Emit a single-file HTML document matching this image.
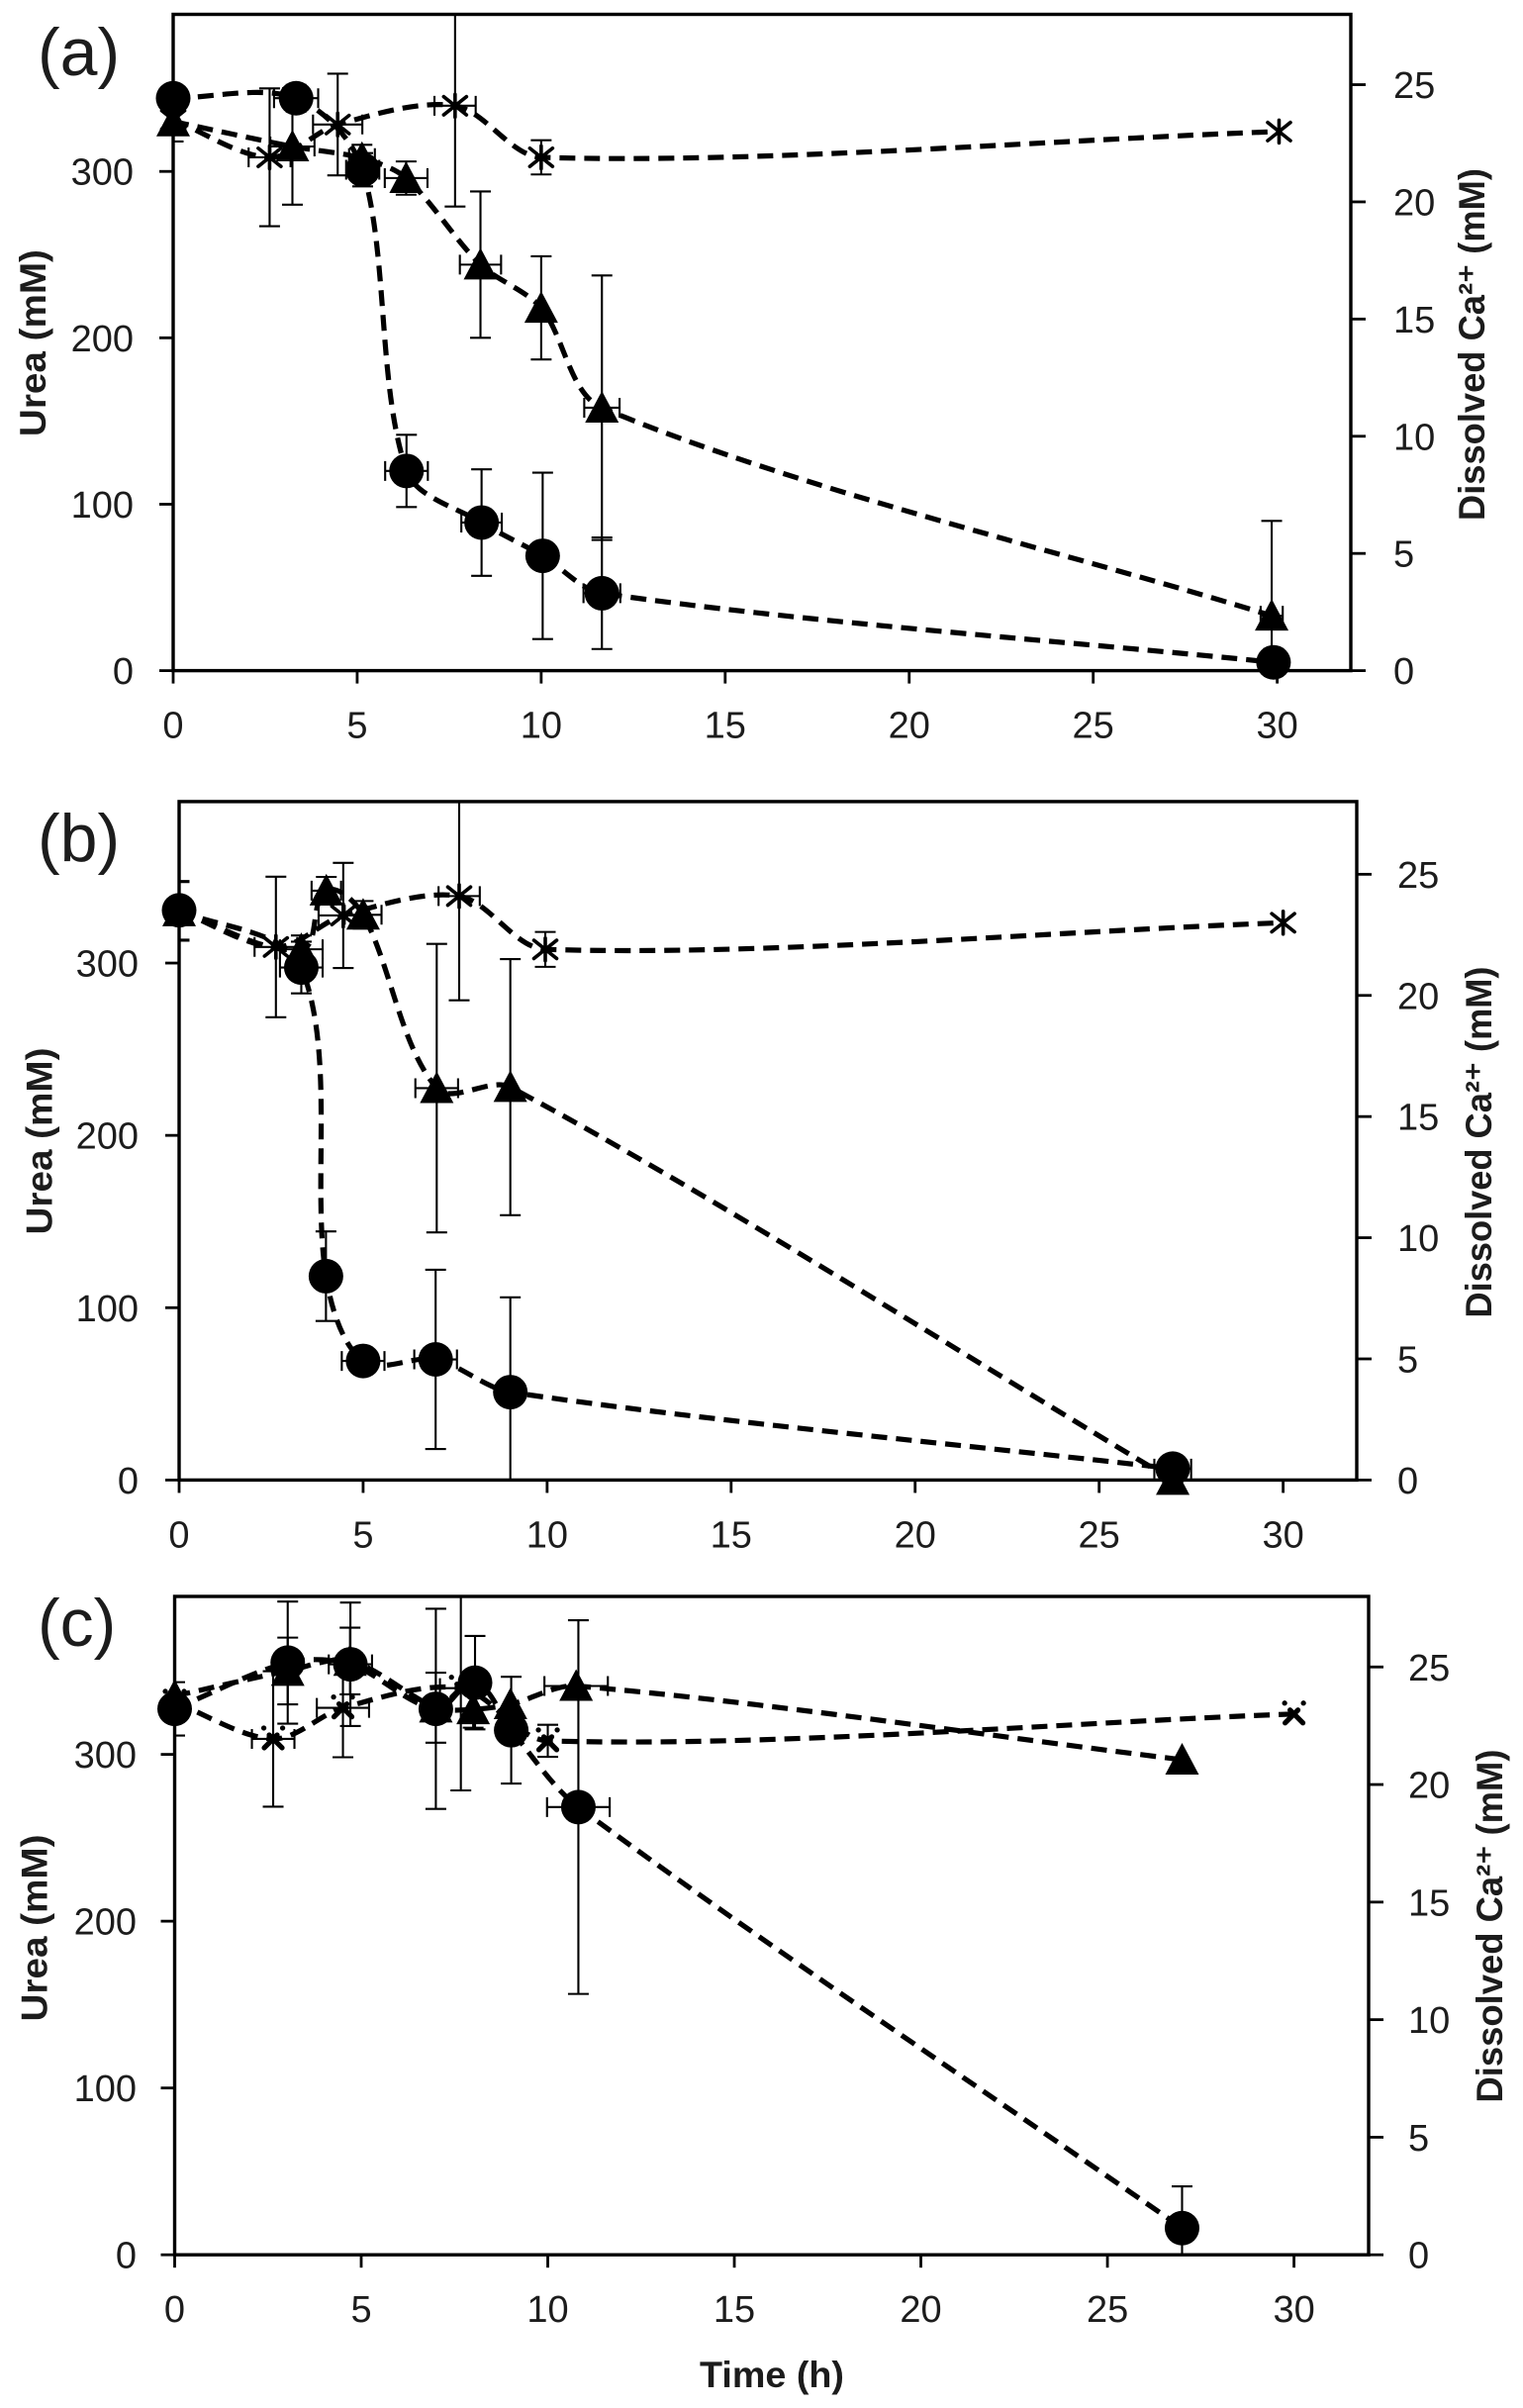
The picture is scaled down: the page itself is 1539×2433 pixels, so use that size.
<!DOCTYPE html>
<html lang="en">
<head>
<meta charset="utf-8">
<title>Urea and dissolved calcium over time</title>
<style>
html,body{margin:0;padding:0;background:#fff;}
svg{display:block;}
text{font-family:"Liberation Sans",sans-serif;fill:#1c1c1c;}
</style>
</head>
<body>
<svg id="figure" xmlns="http://www.w3.org/2000/svg" width="1539" height="2433" viewBox="0 0 1539 2433">
  <rect x="0" y="0" width="1539" height="2433" fill="#fff"/>
  <text x="38" y="76" font-size="68">(a)</text>
  <text x="38" y="870" font-size="68">(b)</text>
  <text x="38" y="1663" font-size="68">(c)</text>

  <text transform="translate(46,346.6) rotate(-90)" text-anchor="middle" font-size="37" font-weight="700" textLength="189" lengthAdjust="spacingAndGlyphs">Urea (mM)</text>
  <text transform="translate(52.5,1153) rotate(-90)" text-anchor="middle" font-size="37" font-weight="700" textLength="189" lengthAdjust="spacingAndGlyphs">Urea (mM)</text>
  <text transform="translate(47.5,1948) rotate(-90)" text-anchor="middle" font-size="37" font-weight="700" textLength="189" lengthAdjust="spacingAndGlyphs">Urea (mM)</text>

  <text transform="translate(1500,348) rotate(-90)" text-anchor="middle" font-size="37" font-weight="700" textLength="356" lengthAdjust="spacingAndGlyphs">Dissolved Ca²⁺ (mM)</text>
  <text transform="translate(1507,1154) rotate(-90)" text-anchor="middle" font-size="37" font-weight="700" textLength="355" lengthAdjust="spacingAndGlyphs">Dissolved Ca²⁺ (mM)</text>
  <text transform="translate(1518,1946) rotate(-90)" text-anchor="middle" font-size="37" font-weight="700" textLength="357" lengthAdjust="spacingAndGlyphs">Dissolved Ca²⁺ (mM)</text>

  <text x="780" y="2412" text-anchor="middle" font-size="37" font-weight="700" textLength="146" lengthAdjust="spacingAndGlyphs">Time (h)</text>
</svg>
<script>
// Shared axis tick labels
const xTickLabels = [0, 5, 10, 15, 20, 25, 30];
const ureaTickLabels = [0, 100, 200, 300];
const calciumTickLabels = [0, 5, 10, 15, 20, 25];

// Panel (a)
const aCircleTime = [0, 3.34, 5.15, 6.34, 8.38, 10.04, 11.65, 29.9];
const aCircleUrea = [344, 344, 301, 120, 89, 69, 46.5, 5];
const aCircleUreaErr = [0, 8, 10, 21.7, 32, 50, 33.5, 8];
const aCircleTimeErr = [0, 0.6, 0.45, 0.58, 0.55, 0, 0.5, 0];
const aTriangleTime = [0, 3.24, 5.13, 6.33, 8.35, 10, 11.65, 29.85];
const aTriangleUrea = [330, 315, 308, 296, 244, 218, 158, 33];
const aTriangleUreaErr = [12, 35, 8, 10, 44, 31, 79.5, 57];
const aTriangleTimeErr = [0, 0.6, 0.35, 0.58, 0.56, 0, 0.48, 0.3];
const aStarTime = [0, 2.62, 4.47, 7.66, 10, 30.05];
const aStarCalcium = [23.5, 21.9, 23.3, 24.1, 21.9, 23];
const aStarCalciumErr = [0, 2.94, 2.17, 4.3, 0.73, 0];
const aStarTimeErr = [0, 0.57, 0.67, 0.56, 0, 0];

// Panel (b)
const bCircleTime = [0, 3.32, 3.99, 5, 6.97, 9, 27];
const bCircleUrea = [330.6, 297.4, 118.3, 69.1, 70, 51, 6.6];
const bCircleUreaErr = [17, 15, 26, 3, 52, 55, 3];
const bCircleTimeErr = [0, 0.58, 0, 0.58, 0.58, 0, 0.5];
const bTriangleTime = [0, 3.32, 4, 5, 7, 9, 27];
const bTriangleUrea = [330, 308, 342, 328, 227.4, 228, 0];
const bTriangleUreaErr = [17, 8, 8, 8, 83.7, 74.3, 0];
const bTriangleTimeErr = [0, 0.58, 0.4, 0.5, 0.58, 0, 0];
const bStarTime = [0, 2.63, 4.46, 7.61, 9.95, 30];
const bStarCalcium = [23.5, 22, 23.3, 24.1, 21.9, 23];
const bStarCalciumErr = [0, 2.9, 2.17, 4.3, 0.72, 0];
const bStarTimeErr = [0, 0.58, 0.67, 0.56, 0, 0];

// Panel (c)
const cCircleTime = [0, 3.03, 4.71, 7, 8.05, 9.02, 10.82, 27];
const cCircleUrea = [327.3, 355, 354, 327.3, 343, 314.5, 268.4, 16];
const cCircleUreaErr = [16, 36.6, 37, 60, 28, 32, 112, 25];
const cCircleTimeErr = [0, 0, 0.58, 0, 0, 0, 0.84, 0];
const cTriangleTime = [0, 3.03, 4.7, 7, 8, 9, 10.76, 27];
const cTriangleUrea = [335, 350, 356, 328, 327, 330, 341, 296.8];
const cTriangleUreaErr = [0, 20, 20, 21, 11, 0, 0, 0];
const cTriangleTimeErr = [0, 0, 0, 0, 0, 0, 0.85, 0];
const cStarTime = [0, 2.64, 4.51, 7.67, 10, 30];
const cStarCalcium = [23.5, 21.94, 23.26, 24.1, 21.86, 23];
const cStarCalciumErr = [0, 2.88, 2.1, 4.35, 0.68, 0];
const cStarTimeErr = [0, 0.57, 0.7, 0.56, 0, 0];

const SVG_NS = 'http://www.w3.org/2000/svg';
const figure = document.getElementById('figure');

function make(tag, parent, attrs) {
  const el = document.createElementNS(SVG_NS, tag);
  for (const k in attrs) el.setAttribute(k, attrs[k]);
  parent.appendChild(el);
  return el;
}

function smoothPath(pts) {
  let d = 'M' + pts[0][0].toFixed(1) + ' ' + pts[0][1].toFixed(1);
  const H = 0.3;
  function unitDir(a, b) {
    const dx = b[0] - a[0], dy = b[1] - a[1];
    const l = Math.hypot(dx, dy) || 1;
    return [dx / l, dy / l];
  }
  for (let i = 0; i < pts.length - 1; i++) {
    const p0 = pts[Math.max(i - 1, 0)], p1 = pts[i], p2 = pts[i + 1], p3 = pts[Math.min(i + 2, pts.length - 1)];
    const seg = Math.hypot(p2[0] - p1[0], p2[1] - p1[1]);
    const t1 = unitDir(p0, p2), t2 = unitDir(p1, p3);
    const c1 = [p1[0] + t1[0] * seg * H, p1[1] + t1[1] * seg * H];
    const c2 = [p2[0] - t2[0] * seg * H, p2[1] - t2[1] * seg * H];
    d += 'C' + c1[0].toFixed(1) + ' ' + c1[1].toFixed(1) + ' ' + c2[0].toFixed(1) + ' ' + c2[1].toFixed(1) + ' ' + p2[0].toFixed(1) + ' ' + p2[1].toFixed(1);
  }
  return d;
}

function drawPanel(p) {
  const xScale = t => p.left + (t / 32) * (p.right - p.left);
  const ureaScale = v => p.bottom - (v / p.ureaMax) * (p.bottom - p.top);
  const calciumScale = v => p.bottom - (v / 28) * (p.bottom - p.top);

  const group = make('g', figure, {});
  
  

  const clipId = 'clip-' + p.id;
  const defs = make('defs', group, {});
  const clip = make('clipPath', defs, { id: clipId });
  make('rect', clip, { x: p.left, y: p.top, width: p.right - p.left, height: p.bottom - p.top });

  // Series
  const seriesList = [
    { key: 'star', time: p.star.time, scale: calciumScale, val: p.star.val, err: p.star.err, xerr: p.star.xerr },
    { key: 'triangle', time: p.triangle.time, scale: ureaScale, val: p.triangle.val, err: p.triangle.err, xerr: p.triangle.xerr },
    { key: 'circle', time: p.circle.time, scale: ureaScale, val: p.circle.val, err: p.circle.err, xerr: p.circle.xerr }
  ];

  seriesList.forEach(s => {
    const sg = make('g', group, {});
    
    

    const errG = make('g', sg, { 'clip-path': 'url(#' + clipId + ')', stroke: '#000', 'stroke-width': 2.1, fill: 'none' });
    
    

    s.time.forEach((t, i) => {
      const cx = xScale(t), cy = s.scale(s.val[i]);
      if (s.err[i] > 0) {
        const y1 = s.scale(s.val[i] + s.err[i]), y2 = s.scale(s.val[i] - s.err[i]);
        const cap = 10.5;
        const bar = make('path', errG, {
          d: 'M' + cx + ' ' + y1 + 'V' + y2 + 'M' + (cx - cap) + ' ' + y1 + 'H' + (cx + cap) + 'M' + (cx - cap) + ' ' + y2 + 'H' + (cx + cap)
        });
        
        
      }
      if (s.xerr[i] > 0) {
        const x1 = xScale(t - s.xerr[i]), x2 = xScale(t + s.xerr[i]);
        const cap = 10;
        const bar = make('path', errG, {
          d: 'M' + x1 + ' ' + cy + 'H' + x2 + 'M' + x1 + ' ' + (cy - cap) + 'V' + (cy + cap) + 'M' + x2 + ' ' + (cy - cap) + 'V' + (cy + cap)
        });
        
        
      }
    });

    const pts = s.time.map((t, i) => [xScale(t), s.scale(s.val[i])]);
    const line = make('path', sg, {
      d: smoothPath(pts), fill: 'none', stroke: '#000', 'stroke-width': 5.2, 'stroke-dasharray': '16 9'
    });
    
    

    s.time.forEach((t, i) => {
      const cx = xScale(t), cy = s.scale(s.val[i]);
      let mark;
      if (s.key === 'circle') {
        mark = make('circle', sg, { cx: cx, cy: cy, r: 17.5, fill: '#000' });
      } else if (s.key === 'triangle') {
        mark = make('polygon', sg, {
          points: cx + ',' + (cy - 17) + ' ' + (cx + 17) + ',' + (cy + 15) + ' ' + (cx - 17) + ',' + (cy + 15),
          fill: '#000'
        });
      } else {
        const r = 11.5;
        let d;
        if (p.id === 'c') {
          d = 'M' + (cx - 9) + ' ' + (cy + 9) + 'L' + (cx + 4) + ' ' + (cy - 4) +
              'M' + (cx + 9) + ' ' + (cy + 9) + 'L' + (cx - 4) + ' ' + (cy - 4) +
              'M' + (cx - 9.5) + ' ' + (cy - 11) + 'h.1M' + (cx + 9.5) + ' ' + (cy - 11) + 'h.1';
        } else {
          d = 'M' + (cx - r) + ' ' + (cy - r * 0.8) + 'L' + (cx + r) + ' ' + (cy + r * 0.8) +
              'M' + (cx + r) + ' ' + (cy - r * 0.8) + 'L' + (cx - r) + ' ' + (cy + r * 0.8) +
              'M' + cx + ' ' + (cy - r) + 'V' + (cy + r);
        }
        mark = make('path', sg, { d: d, stroke: '#000', 'stroke-width': p.id === 'c' ? 5.2 : 3.6, 'stroke-linecap': 'round', fill: 'none' });
      }
      
      
    });
  });

  // Plot frame and axes
  const frame = make('rect', group, {
    x: p.left, y: p.top, width: p.right - p.left, height: p.bottom - p.top,
    fill: 'none', stroke: '#000', 'stroke-width': 3.4
  });
  
  

  xTickLabels.forEach(v => {
    const x = xScale(v);
    const tick = make('line', group, { x1: x, x2: x, y1: p.bottom, y2: p.bottom + 13, stroke: '#000', 'stroke-width': 2.8 });
    
    
    const label = make('text', group, { x: x, y: p.bottom + 68, 'text-anchor': 'middle', 'font-size': 38 });
    label.textContent = v;
    
    
  });

  ureaTickLabels.forEach(v => {
    const y = ureaScale(v);
    const tick = make('line', group, { x1: p.left - 14, x2: p.left, y1: y, y2: y, stroke: '#000', 'stroke-width': 2.8 });
    
    
    const label = make('text', group, { x: p.leftLabelX, y: y + 13.5, 'text-anchor': 'end', 'font-size': 38 });
    label.textContent = v;
    
    
  });

  calciumTickLabels.forEach(v => {
    const y = calciumScale(v);
    const tick = make('line', group, { x1: p.right, x2: p.right + 15, y1: y, y2: y, stroke: '#000', 'stroke-width': 2.8 });
    
    
    const label = make('text', group, { x: p.rightLabelX, y: y + 13.5, 'text-anchor': 'start', 'font-size': 38 });
    label.textContent = v;
    
    
  });
}

drawPanel({
  id: 'a', left: 175, right: 1365, top: 14.5, bottom: 677.6, ureaMax: 394.4, leftLabelX: 135, rightLabelX: 1408,
  circle: { time: aCircleTime, val: aCircleUrea, err: aCircleUreaErr, xerr: aCircleTimeErr },
  triangle: { time: aTriangleTime, val: aTriangleUrea, err: aTriangleUreaErr, xerr: aTriangleTimeErr },
  star: { time: aStarTime, val: aStarCalcium, err: aStarCalciumErr, xerr: aStarTimeErr }
});
drawPanel({
  id: 'b', left: 181, right: 1371, top: 809.9, bottom: 1495.4, ureaMax: 393.7, leftLabelX: 140, rightLabelX: 1412,
  circle: { time: bCircleTime, val: bCircleUrea, err: bCircleUreaErr, xerr: bCircleTimeErr },
  triangle: { time: bTriangleTime, val: bTriangleUrea, err: bTriangleUreaErr, xerr: bTriangleTimeErr },
  star: { time: bStarTime, val: bStarCalcium, err: bStarCalciumErr, xerr: bStarTimeErr }
});
drawPanel({
  id: 'c', left: 176.5, right: 1383, top: 1613, bottom: 2278.2, ureaMax: 394.7, leftLabelX: 138, rightLabelX: 1423,
  circle: { time: cCircleTime, val: cCircleUrea, err: cCircleUreaErr, xerr: cCircleTimeErr },
  triangle: { time: cTriangleTime, val: cTriangleUrea, err: cTriangleUreaErr, xerr: cTriangleTimeErr },
  star: { time: cStarTime, val: cStarCalcium, err: cStarCalciumErr, xerr: cStarTimeErr }
});
</script>
</body>
</html>
